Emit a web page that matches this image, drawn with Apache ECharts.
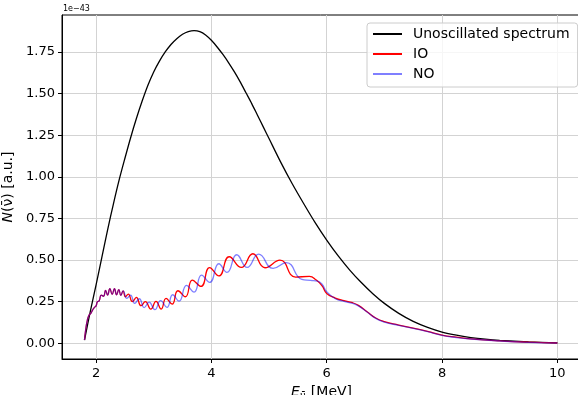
<!DOCTYPE html>
<html><head><meta charset="utf-8">
<script src="https://cdn.jsdelivr.net/npm/echarts@6/dist/echarts.min.js"></script>
<style>html,body{margin:0;padding:0;background:#fff}#c{width:578px;height:395px}</style>
</head><body><div id="c"></div>
<script>
const xTicks = [2, 4, 6, 8, 10];
const yTicks = [0, 0.25, 0.5, 0.75, 1, 1.25, 1.5, 1.75];

const unoscE = [1.80,1.90,2.00,2.10,2.20,2.30,2.40,2.50,2.60,2.70,2.80,2.90,3.00,3.10,3.20,3.30,3.40,3.50,3.60,3.70,3.80,3.90,4.00,4.10,4.20,4.30,4.40,4.50,4.60,4.70,4.80,4.90,5.00,5.20,5.40,5.60,5.80,6.00,6.20,6.40,6.60,6.80,7.00,7.25,7.50,7.75,8.00,8.25,8.50,8.75,9.00,9.50,10.00];
const unoscV = [0.02,0.19,0.35,0.515,0.68,0.835,0.98,1.11,1.235,1.35,1.455,1.55,1.63,1.695,1.75,1.795,1.83,1.856,1.872,1.878,1.872,1.852,1.82,1.78,1.735,1.685,1.63,1.57,1.505,1.44,1.37,1.30,1.23,1.09,0.96,0.84,0.725,0.62,0.525,0.44,0.365,0.298,0.24,0.18,0.132,0.096,0.068,0.049,0.035,0.025,0.018,0.009,0.003];

const ioE = [1.80,1.82,1.85,1.88,1.91,1.94,1.97,2.00,2.025,2.055,2.09,2.13,2.165,2.20,2.24,2.28,2.32,2.355,2.395,2.43,2.47,2.51,2.56,2.63,2.70,2.78,2.855,2.95,3.04,3.13,3.215,3.32,3.42,3.55,3.67,3.82,3.97,4.13,4.31,4.52,4.72,4.93,5.19,5.46,5.70,5.82,5.92,6.00,6.15,6.30,6.45,6.55,6.70,6.85,7.00,7.25,7.50,7.75,8.00,8.25,8.50,9.00,9.50,10.00];
const ioV = [0.02,0.08,0.14,0.17,0.18,0.20,0.215,0.225,0.25,0.255,0.29,0.283,0.318,0.29,0.328,0.295,0.328,0.292,0.322,0.288,0.315,0.28,0.296,0.25,0.276,0.226,0.25,0.206,0.252,0.206,0.27,0.236,0.316,0.28,0.38,0.342,0.455,0.405,0.52,0.456,0.538,0.454,0.50,0.398,0.402,0.38,0.345,0.30,0.272,0.256,0.244,0.228,0.19,0.152,0.13,0.11,0.092,0.072,0.05,0.037,0.027,0.015,0.007,0.002];

const noE = [1.80,1.82,1.85,1.88,1.91,1.94,1.97,2.00,2.025,2.055,2.09,2.13,2.165,2.20,2.24,2.28,2.32,2.355,2.395,2.43,2.47,2.535,2.60,2.67,2.75,2.835,2.92,3.02,3.12,3.23,3.33,3.44,3.57,3.70,3.83,3.97,4.13,4.27,4.44,4.62,4.82,5.07,5.30,5.57,5.72,5.84,5.92,6.00,6.15,6.30,6.45,6.55,6.70,6.85,7.00,7.25,7.50,7.75,8.00,8.25,8.50,9.00,9.50,10.00];
const noV = [0.02,0.08,0.14,0.17,0.18,0.20,0.215,0.225,0.25,0.255,0.29,0.283,0.318,0.29,0.328,0.295,0.328,0.292,0.322,0.288,0.315,0.27,0.29,0.24,0.268,0.215,0.248,0.202,0.256,0.216,0.292,0.253,0.348,0.308,0.41,0.366,0.478,0.426,0.532,0.456,0.536,0.45,0.485,0.384,0.378,0.374,0.355,0.31,0.268,0.252,0.24,0.225,0.188,0.15,0.128,0.108,0.09,0.07,0.048,0.035,0.026,0.014,0.006,0.002];

const zip = (a, b) => a.map((x, i) => [x, b[i]]);
const FONT = 'DejaVu Sans';

const chart = echarts.init(document.getElementById('c'), null, {renderer: 'canvas'});
chart.setOption({
  animation: false,
  backgroundColor: '#fff',
  grid: {left: 62, top: 15, right: -3, bottom: 36, show: true, borderColor: '#000', borderWidth: 1, outerBoundsMode: 'none', containLabel: false},
  xAxis: {
    type: 'value', min: 1.41, max: 10.41,
    axisLine: {show: true, onZero: false, lineStyle: {color: '#000', width: 1}},
    axisTick: {show: true, inside: false, length: 4, customValues: xTicks, lineStyle: {color: '#000'}},
    axisLabel: {customValues: xTicks, margin: 8, color: '#000', fontSize: 13, fontFamily: FONT, formatter: v => String(v)},
    splitLine: {show: true, lineStyle: {color: '#d3d3d3', width: 1}},
    name: '{i|E}{s|ν̄} [MeV]', nameLocation: 'middle', nameGap: 24,
    nameTextStyle: {fontSize: 14, fontFamily: FONT, color: '#000',
      rich: {i: {fontStyle: 'italic', fontSize: 14, fontFamily: FONT, color: '#000'},
             s: {fontStyle: 'italic', fontSize: 10, fontFamily: FONT, color: '#000', padding: [8, 1, 0, 0]}}}
  },
  yAxis: {
    type: 'value', min: -0.094, max: 1.972,
    axisLine: {show: true, onZero: false, lineStyle: {color: '#000', width: 1}},
    axisTick: {show: true, inside: false, length: 4, customValues: yTicks, lineStyle: {color: '#000'}},
    axisLabel: {customValues: yTicks, margin: 7, color: '#000', fontSize: 13, fontFamily: FONT, formatter: v => v.toFixed(2)},
    splitLine: {show: true, lineStyle: {color: '#d3d3d3', width: 1}},
    name: '{i|N}(ν̄) [a.u.]', nameLocation: 'middle', nameRotate: 90, nameGap: 39,
    nameTextStyle: {fontSize: 14, fontFamily: FONT, color: '#000',
      rich: {i: {fontStyle: 'italic', fontSize: 14, fontFamily: FONT, color: '#000'}}}
  },
  legend: {
    orient: 'vertical', left: 367, top: 23, itemWidth: 29, itemHeight: 14, itemGap: 6,
    padding: [4, 8, 6, 5], borderColor: '#cccccc', borderWidth: 1, borderRadius: 3,
    backgroundColor: 'rgba(255,255,255,0.8)',
    itemStyle: {opacity: 0},
    textStyle: {fontSize: 14, fontFamily: FONT, color: '#000', padding: [0, 0, 0, 6]},
    data: ['Unoscillated spectrum', 'IO', 'NO']
  },
  graphic: [{type: 'text', left: 63, top: 5, style: {text: '1e\u221243', fontSize: 8, fontFamily: FONT, fill: '#000'}}],
  series: [
    {name: 'Unoscillated spectrum', type: 'line', data: zip(unoscE, unoscV), smooth: 0.3, symbol: 'none', lineStyle: {color: '#000', width: 1.3}, itemStyle: {color: '#000'}},
    {name: 'IO', type: 'line', data: zip(ioE, ioV), smooth: 0.5, symbol: 'none', lineStyle: {color: '#ff0000', width: 1.3}, itemStyle: {color: '#ff0000'}},
    {name: 'NO', type: 'line', data: zip(noE, noV), smooth: 0.5, symbol: 'none', lineStyle: {color: 'rgba(0,0,255,0.5)', width: 1.3}, itemStyle: {color: 'rgba(0,0,255,0.5)'}}
  ]
});
</script>
</body></html>
